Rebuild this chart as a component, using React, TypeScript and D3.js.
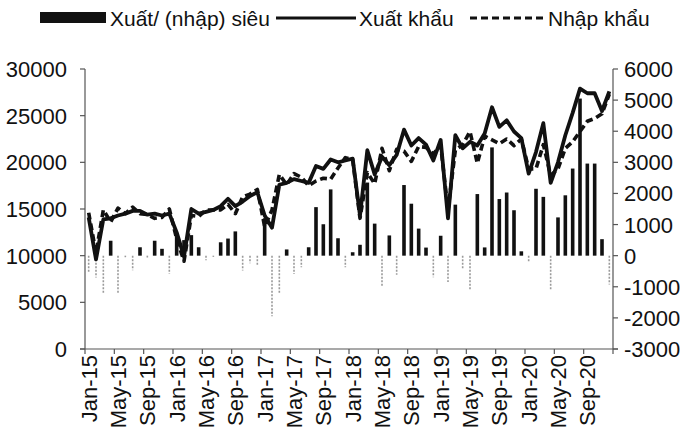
import React from "react";
import * as d3 from "d3";

const years = ["15", "16", "17", "18", "19", "20"];
const monthNames = ["Jan", "Feb", "Mar", "Apr", "May", "Jun", "Jul", "Aug", "Sep", "Oct", "Nov", "Dec"];
const categories: string[] = years.flatMap((y) => monthNames.map((m) => `${m}-${y}`));

const exportsVal = [
  14100, 9600, 13900, 14000, 14300, 14500, 14800, 14800, 14400, 14500, 14300, 14500,
  12500, 9900, 15000, 14500, 14700, 14900, 15300, 16100, 15300, 15800, 16400, 16800,
  14300, 13000, 17600, 17800, 18200, 18000, 17800, 19600, 19300, 20300, 20000, 20200,
  20400, 14300, 21300, 18700, 20600, 19700, 20800, 23500, 21800, 22600, 21900, 20200,
  22400, 14000, 22900, 21500, 22200, 21800, 23100, 25900, 23800, 24500, 23300, 22600,
  18800, 21100, 24200, 17800, 20000, 22900, 25300, 27900, 27400, 27400, 25500, 27600,
];

const importsVal = [
  14600, 10300, 14900, 13600, 15100, 14500, 15200, 14500, 14400, 14000, 14100, 15000,
  11800, 9400, 14300, 14200, 14900, 14900, 14900, 15500, 14500, 16300, 16600, 17100,
  13100, 14900, 18700, 17600, 18800, 18400, 17500, 18000, 18300, 18200, 19400, 20500,
  20300, 14000, 18900, 17700, 21500, 19100, 21400, 21200, 20100, 21700, 21600, 20900,
  21800, 14900, 21300, 21900, 23300, 19900, 22800, 22400, 22000, 22500, 21800, 22500,
  19300, 19300, 21900, 18600, 19300, 21500, 22200, 23300, 24400, 24700, 25200, 27300,
];

const balanceVal = [
  -550, -700, -1200, 480, -1200, -50, -470, 270, -60, 480, 220, -580,
  700, 500, 660, 270, -150, -40, 430, 550, 780, -480, -240, -320,
  1200, -1950, -1200, 200, -590, -370, 270, 1560, 1010, 2130, 560, -370,
  110, 350, 2350, 1030, -980, 650, -610, 2270, 1670, 870, 260, -690,
  640, -850, 1640, -420, -1120, 1980, 265, 3480, 1820, 2030, 1460, 140,
  -200, 2150, 1890, -1100, 1230, 1940, 2800, 5050, 2960, 2960, 530, -930,
];

const leftTicks = [0, 5000, 10000, 15000, 20000, 25000, 30000];
const rightTicks = [-3000, -2000, -1000, 0, 1000, 2000, 3000, 4000, 5000, 6000];
const xTickLabels = [
  "Jan-15", "May-15", "Sep-15", "Jan-16", "May-16", "Sep-16", "Jan-17", "May-17", "Sep-17",
  "Jan-18", "May-18", "Sep-18", "Jan-19", "May-19", "Sep-19", "Jan-20", "May-20", "Sep-20",
];

const legendLabels = ["Xuất/ (nhập) siêu", "Xuất khẩu", "Nhập khẩu"];

export default function App() {
  const W = 685;
  const H = 432;
  const left = 85;
  const right = 613;
  const top = 69;
  const bottom = 349;
  const font = "Liberation Sans, Arial, sans-serif";
  const fs = 21;
  const tfs = 22;

  const x = d3.scaleBand<string>().domain(categories).range([left, right]).padding(0);
  const yL = d3.scaleLinear().domain([0, 30000]).range([bottom, top]);
  const yR = d3.scaleLinear().domain([-3000, 6000]).range([bottom, top]);
  const cx = (i: number) => (x(categories[i]) as number) + x.bandwidth() / 2;

  const lineGen = d3
    .line<number>()
    .x((_, i) => cx(i))
    .y((d) => yL(d))
    .curve(d3.curveLinear);

  const axisColor = "#555";

  return (
    <svg width={W} height={H} style={{ position: "absolute", left: 0, top: 0, background: "#fff" }}
      fontFamily={font}>
      <rect x={0} y={0} width={W} height={H} fill="#fff" />
      {/* legend */}
      <g>
        <rect x={40} y={12} width={66} height={11} fill="#111" />
        <text x={110} y={26} fontSize={fs} fill="#111">{legendLabels[0]}</text>
        <line x1={276} x2={356} y1={18} y2={18} stroke="#111" strokeWidth={3} />
        <text x={359} y={26} fontSize={fs} fill="#111">{legendLabels[1]}</text>
        <line x1={470} x2={545} y1={18} y2={18} stroke="#111" strokeWidth={3} strokeDasharray="7,4" />
        <text x={548} y={26} fontSize={fs} fill="#111">{legendLabels[2]}</text>
      </g>

      {/* bars */}
      {balanceVal.map((v, i) => {
        const y0 = yR(0);
        const y1 = yR(v);
        if (v >= 0) {
          return (
            <rect key={"b" + i} x={cx(i) - 1.8} y={y1} width={3.6} height={y0 - y1} fill="#111" />
          );
        }
        return (
          <line key={"b" + i} x1={cx(i)} x2={cx(i)} y1={y0} y2={y1} stroke="#9a9a9a"
            strokeWidth={1.6} strokeDasharray="2,1.5" />
        );
      })}

      {/* lines */}
      <path d={lineGen(importsVal) || ""} fill="none" stroke="#111" strokeWidth={3.6}
        strokeDasharray="7,4" strokeLinejoin="round" />
      <path d={lineGen(exportsVal) || ""} fill="none" stroke="#111" strokeWidth={3.8}
        strokeLinejoin="round" />

      {/* axes */}
      <line x1={left} x2={left} y1={top} y2={bottom} stroke={axisColor} strokeWidth={1.2} />
      <line x1={right} x2={right} y1={top} y2={bottom} stroke={axisColor} strokeWidth={1.2} />
      <line x1={left - 5} x2={right + 5} y1={bottom} y2={bottom} stroke={axisColor} strokeWidth={1.2} />

      {leftTicks.map((t) => (
        <g key={"lt" + t}>
          <line x1={left - 5} x2={left} y1={yL(t)} y2={yL(t)} stroke={axisColor} strokeWidth={1.2} />
          <text x={67} y={yL(t) + 8} fontSize={tfs} textAnchor="end" fill="#111">{t}</text>
        </g>
      ))}
      {rightTicks.map((t) => (
        <g key={"rt" + t}>
          <line x1={right} x2={right + 5} y1={yR(t)} y2={yR(t)} stroke={axisColor} strokeWidth={1.2} />
          <text x={624} y={yR(t) + 8} fontSize={tfs} textAnchor="start" fill="#111">{t}</text>
        </g>
      ))}

      {d3.range(0, 73, 4).map((k) => {
        const xp = left + k * x.bandwidth();
        return <line key={"xt" + k} x1={xp} x2={xp} y1={bottom} y2={bottom + 5} stroke={axisColor} strokeWidth={1.2} />;
      })}
      {xTickLabels.map((lab, k) => {
        const i = k * 4;
        const xp = cx(i);
        return (
          <text key={"xl" + k} transform={`translate(${xp + 8},${bottom + 6}) rotate(-90)`}
            fontSize={tfs} textAnchor="end" fill="#111">{lab}</text>
        );
      })}
    </svg>
  );
}
